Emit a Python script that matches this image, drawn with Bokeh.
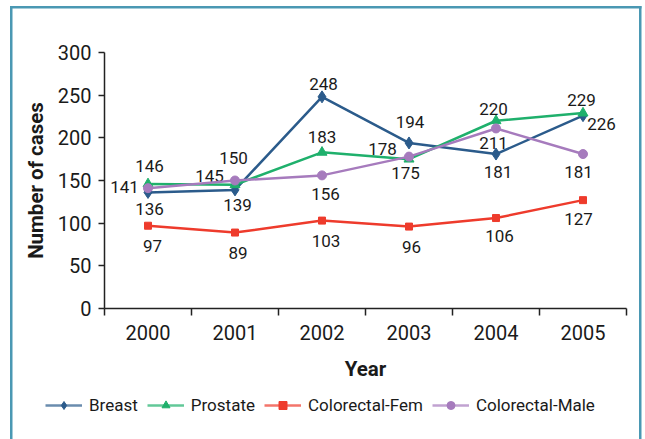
from bokeh.plotting import figure
from bokeh.layouts import column
from bokeh.models import Range1d, FixedTicker, ColumnDataSource, Legend, LegendItem
from bokeh.core.properties import value
from bokeh.embed import file_html
from bokeh.resources import INLINE

# ---- data ----
years = ["2000", "2001", "2002", "2003", "2004", "2005"]
breast = [136, 139, 248, 194, 181, 226]
prostate = [146, 145, 183, 175, 220, 229]
colorectal_fem = [97, 89, 103, 96, 106, 127]
colorectal_male = [141, 150, 156, 178, 211, 181]
y_ticks = [0, 50, 100, 150, 200, 250, 300]

# ---- label placement (screen px, positive = down) ----
label_dx = {
    "Breast": [1.5, 2.5, 1.5, 1, 2, 18.5],
    "Prostate": [1.5, -25.5, 0, -3.5, -2.5, -1.5],
    "Colorectal-Fem": [4.5, 3, 4, 2.5, 3.5, -4.5],
    "Colorectal-Male": [-23.5, -1.5, 3.5, -26.5, -2.5, -4.5],
}
label_dy = {
    "Breast": [17, 15, -13, -21, 18, 8],
    "Prostate": [-18, -9, -15, 14, -12, -13],
    "Colorectal-Fem": [20, 20, 20, 20, 18, 19],
    "Colorectal-Male": [-1, -23, 19, -8, 15, 18],
}

FONT = "Roboto"
TXT = "#1a1a1a"
BOX = "#4a98b3"

series = [
    ("Breast", breast, "#2b5b8b", "diamond", 12),
    ("Prostate", prostate, "#1fb06c", "triangle", 10),
    ("Colorectal-Fem", colorectal_fem, "#ee3b2c", "square", 7),
    ("Colorectal-Male", colorectal_male, "#a67bbd", "circle", 9),
]

def frame_bg(top_y, with_top):
    g = f"linear-gradient({BOX},{BOX})"
    parts = [f"{g} 10px {top_y}px / 2.5px 700px no-repeat",
             f"{g} 639px {top_y}px / 2.5px 700px no-repeat"]
    if with_top:
        parts.append(f"{g} 10px {top_y}px / 631.5px 2.5px no-repeat")
    return ", ".join(parts)

p = figure(width=645, height=388, output_backend="svg", toolbar_location=None,
           x_range=Range1d(0, 6), y_range=Range1d(0, 300),
           min_border_left=104, min_border_right=19, min_border_top=52, min_border_bottom=80,
           styles={"background": frame_bg(6, True)})
p.grid.visible = False
p.outline_line_color = None
p.background_fill_alpha = 0
p.border_fill_alpha = 0
p.frame_align = False

lg = figure(width=645, height=51, output_backend="svg", toolbar_location=None,
            x_range=Range1d(100, 101), y_range=Range1d(1000, 1001), min_border=0,
            x_axis_location=None, y_axis_location=None,
            styles={"background": frame_bg(0, False)})
lg.grid.visible = False
lg.outline_line_color = None
lg.background_fill_alpha = 0
lg.border_fill_alpha = 0
lg.frame_align = False

xpos = [i + 0.5 for i in range(len(years))]

items = []
for name, vals, color, marker, size in series:
    src = ColumnDataSource(dict(x=xpos, y=vals, t=[str(v) for v in vals],
                                dx=label_dx[name], dy=label_dy[name]))
    p.line("x", "y", source=src, line_color=color, line_width=2.5)
    p.scatter("x", "y", source=src, marker=marker, size=size,
              fill_color=color, line_color=color)
    p.text("x", "y", text="t", source=src, x_offset="dx", y_offset="dy",
           text_align="center", text_baseline="middle", text_color=TXT,
           text_font=value(FONT), text_font_size="17px")
    # legend-only renderers (same data, outside the legend strip's ranges)
    ll = lg.line("x", "y", source=src, line_color=color, line_width=2.5, line_alpha=0.7)
    ls = lg.scatter("x", "y", source=src, marker=marker, size=size - 1,
                    fill_color=color, line_color=color)
    items.append(LegendItem(label=name, renderers=[ll, ls]))

# x axis
xa = p.xaxis[0]
xa.ticker = FixedTicker(ticks=xpos, minor_ticks=list(range(len(years) + 1)))
xa.major_label_overrides = {x: y for x, y in zip(xpos, years)}
xa.major_tick_line_color = None
xa.major_tick_out = 7
xa.major_tick_in = 0
xa.minor_tick_out = 7
xa.minor_tick_in = 0
xa.minor_tick_line_color = "#222222"
xa.minor_tick_line_width = 1.5
xa.axis_line_color = "#222222"
xa.axis_line_width = 1.5
xa.major_label_standoff = 9
xa.major_label_text_font = FONT
xa.major_label_text_font_size = "20px"
xa.major_label_text_color = TXT
xa.axis_label = "Year"
xa.axis_label_text_font = FONT
xa.axis_label_text_font_size = "20.5px"
xa.axis_label_text_font_style = "bold"
xa.axis_label_text_color = TXT
xa.axis_label_standoff = 14

# y axis
ya = p.yaxis[0]
ya.ticker = FixedTicker(ticks=y_ticks, minor_ticks=[])
ya.major_tick_out = 6
ya.major_tick_in = 0
ya.major_tick_line_color = "#222222"
ya.major_tick_line_width = 1.5
ya.axis_line_color = "#222222"
ya.axis_line_width = 1.5
ya.major_label_standoff = 7
ya.major_label_text_font = FONT
ya.major_label_text_font_size = "20px"
ya.major_label_text_color = TXT
ya.axis_label = "Number of cases"
ya.axis_label_text_font = FONT
ya.axis_label_text_font_size = "20.5px"
ya.axis_label_text_font_style = "bold"
ya.axis_label_text_color = TXT
ya.axis_label_standoff = 7

legend = Legend(items=items, orientation="horizontal", location=(45, 24),
                glyph_width=37, glyph_height=20, label_standoff=7, spacing=9,
                padding=0, margin=0, border_line_color=None, background_fill_alpha=0,
                label_text_font=FONT, label_text_font_size="17px", label_text_color=TXT)
lg.add_layout(legend, "center")

layout = column(p, lg, spacing=0)
open("out.html", "w").write(file_html(layout, INLINE))
